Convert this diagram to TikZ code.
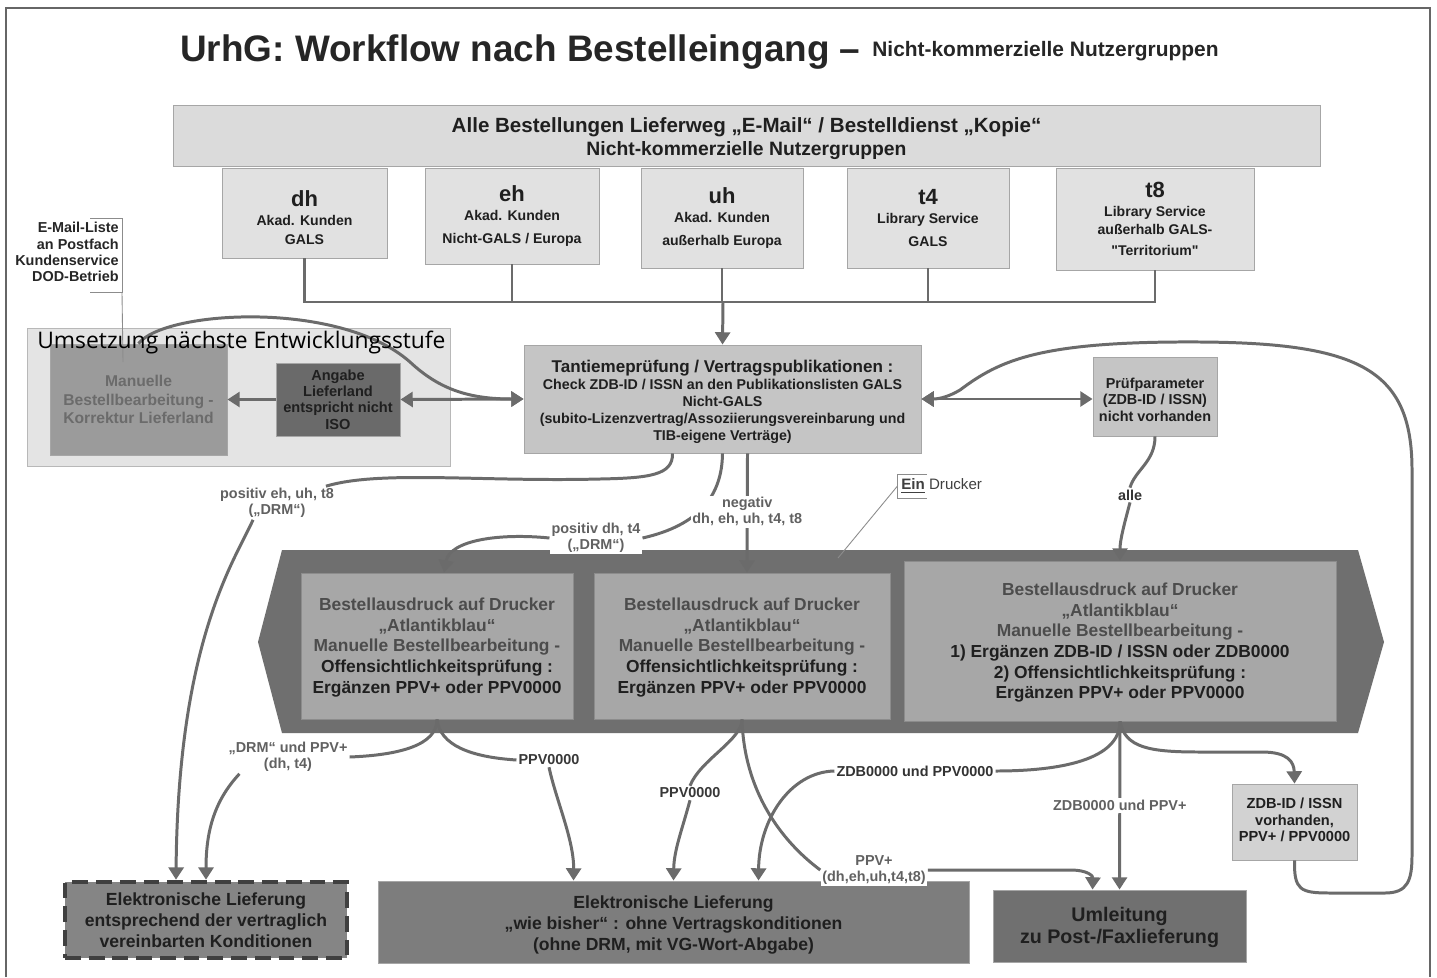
\documentclass[tikz,border=0pt]{standalone}
\usepackage{fontspec}
\setmainfont{Liberation Sans}
\newfontfamily\umsfont{Open Sans}
\usetikzlibrary{arrows.meta,fit,calc}
\definecolor{topfill}{HTML}{DBDBDB}
\definecolor{subfill}{HTML}{E1E1E1}
\definecolor{grpfill}{HTML}{E4E4E4}
\definecolor{tantfill}{HTML}{C5C5C5}
\definecolor{manfill}{HTML}{9B9B9B}
\definecolor{angfill}{HTML}{6A6A6A}
\definecolor{bandfill}{HTML}{6F6F6F}
\definecolor{prtfill}{HTML}{A7A7A7}
\definecolor{drmfill}{HTML}{858585}
\definecolor{wiefill}{HTML}{7D7D7D}
\definecolor{umlfill}{HTML}{707070}
\definecolor{zdbfill}{HTML}{D2D2D2}
\definecolor{wirec}{HTML}{6B6B6B}
\definecolor{txtgray}{HTML}{4C4C4C}
\newcommand\fsz[2]{\fontsize{#1}{#2}\selectfont}
\newcommand\hd[1]{{\fsz{12.5}{12}#1}}
\newcommand\grtxt[1]{\textcolor{txtgray}{#1}}
\begin{document}
\begin{tikzpicture}[x=0.2mm,y=-0.2mm,
    box/.style={fill=#1, draw=black!35, line width=0.5pt, inner sep=0pt},
    txt/.style={inner sep=0pt, align=center, text=black!88},
    fs/.style 2 args={font=\bfseries\fsz{#1}{#2}},
    wire/.style={draw=wirec, line width=1.7pt},
    busline/.style={draw=wirec, line width=1.5pt},
    conn/.style={wire, -{Triangle[length=7pt,width=8.5pt]}},
    dconn/.style={wire, {Triangle[length=7pt,width=8.5pt]}-{Triangle[length=7pt,width=8.5pt]}},
    lbl/.style={fill=white, inner sep=1pt, align=center, text=black!62, font=\bfseries\fsz{8.2}{9.1}},
    thinl/.style={draw=black!45, line width=0.5pt}]
  \useasboundingbox (0,0) rectangle (1437,977);
  \fill[white] (0,0) rectangle (1437,977);
  \draw[black!60, line width=0.8pt] (6,977) |- (1430,8) -- (1430,977);

  \node[anchor=base west, inner sep=0, font=\bfseries\fsz{21}{24}, text=black!85] (title) at (180,62) {UrhG: Workflow nach Bestelleingang –};
  \node[anchor=base west, inner sep=0, font=\bfseries\fsz{11.9}{13}, text=black!85] (subtitle) at (872,57) {Nicht-kommerzielle Nutzergruppen};

  \node[box=topfill, fit={(173,105)(1320,166)}] (alle) {};
  \node[txt, fs={11}{13.1}, yshift=-1.5pt] (alle-t) at (alle) {{\fsz{11.7}{13.1}Alle Bestellungen Lieferweg „E-Mail“ / Bestelldienst „Kopie“}\\Nicht-kommerzielle Nutzergruppen};
  \node[box=subfill, fit={(222,168)(387,258)}] (dh) {};
  \node[box=subfill, fit={(425,168)(599,264)}] (eh) {};
  \node[box=subfill, fit={(641,168)(803,268)}] (uh) {};
  \node[box=subfill, fit={(847,168)(1009,268)}] (t4) {};
  \node[box=subfill, fit={(1056,168)(1254,270)}] (t8) {};
  \node[txt, fs={8}{12}, yshift=-2.5pt] (dh-t) at (dh) {\hd{dh}\\[-1pt]Akad. Kunden\\[-1.5pt]GALS};
  \node[txt, fs={8}{12}] (eh-t) at (eh) {\hd{eh}\\[-1pt]Akad. Kunden\\[1pt]Nicht-GALS / Europa};
  \node[txt, fs={8}{12}] (uh-t) at (uh) {\hd{uh}\\[-1pt]Akad. Kunden\\[1pt]außerhalb Europa};
  \node[txt, fs={8}{12}] (t4-t) at (t4) {\hd{t4}\\[-1pt]Library Service\\[1pt]GALS};
  \node[txt, fs={8}{12}] (t8-t) at (t8) {\hd{t8}\\[-1pt]Library Service\\[-2pt]außerhalb GALS-\\\textquotedbl Territorium\textquotedbl};

  \node[box=tantfill, fit={(524,345)(921,453)}] (tant) {};
  \node[txt, fs={8.1}{9.7}, yshift=-1.7pt] (tant-t) at (tant) {{\fsz{9.7}{9.7}Tantiemeprüfung / Vertragspublikationen :}\\Check ZDB-ID / ISSN an den Publikationslisten GALS\\Nicht-GALS\\(subito-Lizenzvertrag/Assoziierungsvereinbarung und\\TIB-eigene Verträge)};

  \node[box=grpfill, draw=black!28, fit={(27,328)(450,466)}] (grp) {};
  \node[box=manfill, fit={(50,344)(227,455)}] (manuell) {};
  \node[txt, fs={8.9}{10.5}, text=black!58] (manuell-t) at (manuell) {Manuelle\\Bestellbearbeitung -\\Korrektur Lieferland};
  \node[box=angfill, fit={(276,363)(400,436)}] (angabe) {};
  \node[txt, fs={8.3}{9.3}] (angabe-t) at (angabe) {Angabe\\Lieferland\\entspricht nicht\\ISO};

  \node[anchor=north east, inner sep=0, align=right, fs={8.2}{9.3}, text=black!85] (mail) at (119,222) {E-Mail-Liste\\an Postfach\\Kundenservice\\DOD-Betrieb};
  \draw[thinl] (90,218) -| (122,292) -- (90,292);
  \coordinate (mailtip) at (123,362);
  \draw[thinl] (122,292) -- (mailtip);

  \node[box=tantfill, fit={(1093,357)(1217,436)}] (pruef) {};
  \node[txt, fs={8.2}{9.4}, yshift=-1.7pt] (pruef-t) at (pruef) {Prüfparameter\\(ZDB-ID / ISSN)\\nicht vorhanden};

  \fill[bandfill] (282,550) -- (1358,550) -- (1384,642) -- (1358,733) -- (282,733) -- (258,642) -- cycle;
  \node[box=prtfill, draw=black!45, fit={(301,573)(573,719)}] (prtA) {};
  \node[box=prtfill, draw=black!45, fit={(594,573)(890,719)}] (prtB) {};
  \node[box=prtfill, draw=black!45, fit={(904,561)(1336,721)}] (prtC) {};
  \node[txt, fs={9.9}{11.8}, yshift=-0.8pt] (prtA-t) at (prtA) {\grtxt{Bestellausdruck auf Drucker}\\\grtxt{„Atlantikblau“}\\\grtxt{Manuelle Bestellbearbeitung -}\\Offensichtlichkeitsprüfung :\\Ergänzen PPV+ oder PPV0000};
  \node[txt, fs={9.9}{11.8}, yshift=-0.8pt] (prtB-t) at (prtB) {\grtxt{Bestellausdruck auf Drucker}\\\grtxt{„Atlantikblau“}\\\grtxt{Manuelle Bestellbearbeitung -}\\Offensichtlichkeitsprüfung :\\Ergänzen PPV+ oder PPV0000};
  \node[txt, fs={9.9}{11.7}, yshift=-1pt] (prtC-t) at (prtC) {\grtxt{Bestellausdruck auf Drucker}\\\grtxt{„Atlantikblau“}\\\grtxt{Manuelle Bestellbearbeitung -}\\1) Ergänzen ZDB-ID / ISSN oder ZDB0000\\2) Offensichtlichkeitsprüfung :\\Ergänzen PPV+ oder PPV0000};

  \node[box=drmfill, draw=black!75, line width=2.6pt, dash pattern=on 9pt off 4.5pt, fit={(65,882)(347,958)}] (drm) {};
  \node[txt, fs={10}{12}] (drm-t) at (drm) {Elektronische Lieferung\\entsprechend der vertraglich\\vereinbarten Konditionen};
  \node[box=wiefill, fit={(378,881)(969,963)}] (bisher) {};
  \node[txt, fs={10}{11.7}, yshift=-1.7pt] (bisher-t) at (bisher) {Elektronische Lieferung\\„wie bisher“ : ohne Vertragskonditionen\\(ohne DRM, mit VG-Wort-Abgabe)};
  \node[box=umlfill, fit={(993,890)(1246,962)}] (umleit) {};
  \node[txt, fs={11.2}{12.5}, yshift=-1pt] (umleit-t) at (umleit) {Umleitung\\zu Post-/Faxlieferung};
  \node[box=zdbfill, fit={(1232,784)(1357,860)}] (zdbv) {};
  \node[txt, fs={8.3}{9.4}, yshift=1.2pt] (zdbv-t) at (zdbv) {ZDB-ID / ISSN\\vorhanden,\\PPV+ / PPV0000};

  \node[anchor=west, inner sep=0, font=\fsz{8.6}{10}, text=black!75] (ein) at (901,486) {\textbf{\underline{Ein}} Drucker};
  \draw[thinl] (927,474) -- (897,474) -- (897,498) -- (927,498);
  \coordinate (eintip) at (838,558);
  \draw[thinl] ([xshift=-2pt]ein.west) -- (eintip);

  \coordinate (bus) at (723,302);
  \draw[busline] (dh.south) |- (bus) -| (t8.south);
  \foreach \n in {eh,uh,t4}
    \draw[busline] (\n.south) -- (\n.south |- bus);
  \draw[conn] (bus) -- (tant.north);

  \draw[conn] (angabe.west) -- (manuell.east);
  \draw[dconn] (angabe.east) -- (tant.west);
  \draw[conn] (manuell.north) .. controls (165,310) and (340,300) .. (410,362) .. controls (440,390) and (470,399) .. (tant.west);
  \node[anchor=base west, inner sep=0, font=\umsfont\fsz{13}{14}] (ums) at (37,348) {Umsetzung nächste Entwicklungsstufe};

  \draw[dconn] (tant.east) -- (tant.east -| pruef.west);
  \draw[conn] (zdbv.south) .. controls (1294,890) and (1300,893) .. (1330,893) -- (1385,893) .. controls (1408,893) and (1412,880) .. (1412,855) -- (1412,470) .. controls (1412,370) and (1360,343) .. (1200,342) .. controls (1040,341) and (1000,360) .. (960,390) .. controls (950,396) and (940,399) .. (tant.east);

  \node[lbl] (lpos1) at (277,503) {positiv eh, uh, t8\\(„DRM“)};
  \draw[wire] ($(tant.south)+(-50,0)$) .. controls (673,475) and (650,478) .. (600,479) .. controls (480,482) and (380,470) .. ($(lpos1.north east)+(-10,0)$);
  \draw[conn] ($(lpos1.south west)+(35,0)$) .. controls (235,560) and (178,640) .. ($(drm.north)+(-30,0)$);

  \node[lbl] (lpos2) at (596,538) {positiv dh, t4\\(„DRM“)};
  \draw[wire] (tant.south) .. controls (722,495) and (700,525) .. (lpos2.east);
  \draw[conn] (lpos2.west) .. controls (500,533) and (450,540) .. ($(prtA.north)+(7,0)$);

  \draw[conn] ($(tant.south)+(25,0)$) -- node[lbl, pos=0.49] (lneg) {negativ\\dh, eh, uh, t4, t8} ($(prtB.north)+(5,0)$);

  \node[lbl] (ldrm) at (288,757) {„DRM“ und PPV+\\(dh, t4)};
  \draw[wire] (prtA.south) .. controls (437,745) and (400,755) .. (ldrm.east);
  \draw[conn] ($(ldrm.south west)+(13,0)$) .. controls (215,800) and (206,830) .. (drm.north);
  \node[lbl, text=black!78] (lppvA) at (549,760) {PPV0000};
  \draw[wire] (prtA.south) .. controls (440,745) and (470,757) .. (lppvA.west);
  \draw[conn] (lppvA.south) .. controls (556,800) and (574,840) .. ($(bisher.north)+(-100,0)$);

  \node[lbl, text=black!78] (lppvB) at (690,793) {PPV0000};
  \draw[wire] (prtB.south) .. controls (742,740) and (700,760) .. (lppvB.north);
  \draw[conn] (lppvB.south) .. controls (682,830) and (674,850) .. (bisher.north);
  \node[lbl] (lplus) at (874,870) {PPV+\\(dh,eh,uh,t4,t8)};
  \draw[wire] (prtB.south) .. controls (744,790) and (780,840) .. (lplus.west);
  \draw[conn] (lplus.east) -- (1070,870) .. controls (1088,870) and (1093,876) .. ($(umleit.north)+(-27,0)$);

  \node[lbl, text=black!80] (lzdbA) at (915,771) {ZDB0000 und PPV0000};
  \draw[wire] (prtC.south) .. controls (1120,760) and (1060,771) .. (lzdbA.east);
  \draw[conn] (lzdbA.west) .. controls (790,772) and (759,820) .. ($(bisher.north)+(85,0)$);
  \draw[conn] (prtC.south) -- node[lbl, pos=0.5] (lzdbB) {ZDB0000 und PPV+} (umleit.north);
  \draw[conn] (prtC.south) .. controls (1125,748) and (1150,752) .. (1200,752) -- (1262,752) .. controls (1288,752) and (1294,762) .. (zdbv.north);

  \node[lbl, text=black!80] (lalle) at (1130,495) {alle};
  \draw[wire] (pruef.south) .. controls (1155,462) and (1135,470) .. (lalle.north);
  \draw[conn] (lalle.south) .. controls (1124,525) and (1120,540) .. (prtC.north);
\end{tikzpicture}
\end{document}
